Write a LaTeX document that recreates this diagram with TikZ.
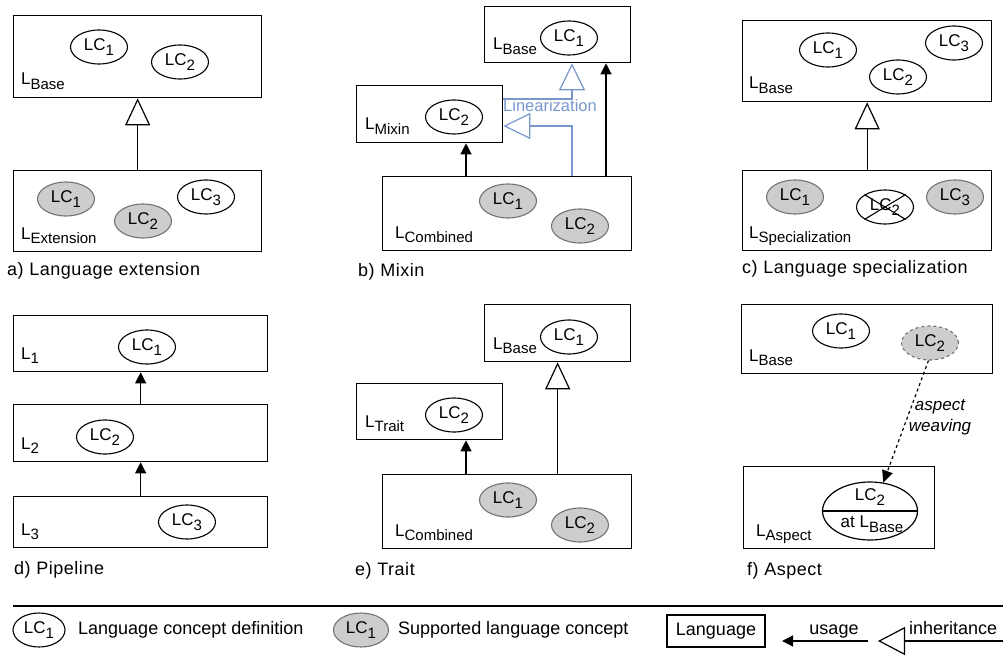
\documentclass[tikz,border=0pt]{standalone}
\usepackage{fontspec}
\setmainfont{Liberation Sans}
\newfontfamily\capfont[LetterSpace=3]{Liberation Sans}
\usetikzlibrary{arrows.meta,shapes.geometric,calc}

\definecolor{supfill}{RGB}{205,205,205}
\definecolor{supline}{RGB}{115,115,115}
\definecolor{linblue}{RGB}{120,152,205}

% lowered, slightly smaller subscript text
\newcommand\lsub[1]{\raisebox{-4.5pt}{\fontsize{15}{15}\selectfont #1}}
\newcommand\lcname[1]{LC\lsub{#1}}
\newcommand\langname[1]{L\lsub{#1}}

\begin{document}
\begin{tikzpicture}[x=1pt,y=-1pt,
  font=\fontsize{17}{20}\selectfont,
  lang/.style={draw, line width=1.3pt, inner sep=0pt, anchor=north west},
  lc/.style={draw, ellipse, line width=1.1pt, minimum width=57pt, minimum height=34pt, inner sep=0pt, fill=white},
  supp/.style={lc, fill=supfill, draw=supline},
  lbl/.style={anchor=base west, inner sep=0pt},
  captext/.style={anchor=west, inner sep=0pt, font=\capfont\fontsize{18}{21}\selectfont},
  leg/.style={inner sep=0pt, font=\fontsize{18}{21}\selectfont},
  use/.style={line width=1.2pt, -{Triangle[length=11pt,width=11pt]}},
  inh/.style={line width=1.2pt, -{Triangle[open,length=27pt,width=25pt,fill=white]}},
  lin/.style={draw=linblue, line width=1.2pt, -{Triangle[open,length=27pt,width=26pt,fill=white]}}
]
\useasboundingbox (0,0) rectangle (1003,655);

% ---------- a) Language extension ----------
\node[lang, minimum width=248pt, minimum height=82pt] (aBase) at (13,15) {};
\node[lc] (aB1) at (99,47) {\lcname{1}};
\node[lc] (aB2) at (180,62) {\lcname{2}};
\node[lbl] (aBaseL) at (21,85) {\langname{Base}};
\node[lang, minimum width=248pt, minimum height=81pt] (aExt) at (13,170) {};
\node[supp] (aE1) at (66,199) {\lcname{1}};
\node[supp] (aE2) at (143,221) {\lcname{2}};
\node[lc] (aE3) at (206,197) {\lcname{3}};
\node[lbl] (aExtL) at (21,239) {\langname{Extension}};
\draw[inh] (aExt.north) -- (aBase.south);
\node[captext] (aCap) at (7,271) {a) Language extension};

% ---------- b) Mixin ----------
\node[lang, minimum width=146pt, minimum height=56pt] (bBase) at (484,6) {};
\node[lc] (bB1) at (569,38) {\lcname{1}};
\node[lbl] (bBaseL) at (493,50) {\langname{Base}};
\node[lang, minimum width=146pt, minimum height=57pt] (bMix) at (356,85) {};
\node[lc] (bM2) at (454,117) {\lcname{2}};
\node[lbl] (bMixL) at (365,130) {\langname{Mixin}};
\node[lang, minimum width=249pt, minimum height=74pt] (bComb) at (382,176) {};
\node[supp] (bC1) at (508,201) {\lcname{1}};
\node[supp] (bC2) at (580,226) {\lcname{2}};
\node[lbl] (bCombL) at (395,238) {\langname{Combined}};
\coordinate (bU1) at ($(bComb.north west)+(84,0)$);
\coordinate (bU2) at ($(bComb.north west)+(224,0)$);
\draw[use] (bU1) -- (bU1 |- bMix.south);
\draw[use] (bU2) -- (bU2 |- bBase.south);
% linearization order
\coordinate (bT1) at ($(bBase.south west)+(88,0)$);
\coordinate (bL1) at ($(bMix.north east)+(0,14)$);
\coordinate (bL2) at ($(bComb.north west)+(190,0)$);
\coordinate (bL3) at ($(bMix.north east)+(0,41)$);
\draw[lin] (bL1) -| (bT1);
\draw[lin] (bL2) |- (bL3);
\node[text=linblue, inner sep=0pt, font=\fontsize{16.5}{19}\selectfont] (bLin) at (550,106) {Linearization};
\node[captext] (bCap) at (358,272) {b) Mixin};

% ---------- c) Language specialization ----------
\node[lang, minimum width=249pt, minimum height=81pt] (cBase) at (742,20) {};
\node[lc] (cB1) at (828,50) {\lcname{1}};
\node[lc] (cB2) at (898,77) {\lcname{2}};
\node[lc] (cB3) at (954,43) {\lcname{3}};
\node[lbl] (cBaseL) at (749,89) {\langname{Base}};
\node[lang, minimum width=249pt, minimum height=80pt] (cSpec) at (742,170) {};
\node[supp] (cS1) at (795,197) {\lcname{1}};
\node[lc] (cS2) at (885,207) {\lcname{2}};
\draw[line width=1.1pt] (cS2.north west) -- (cS2.south east)
                        (cS2.north east) -- (cS2.south west);
\node[supp] (cS3) at (955,197) {\lcname{3}};
\node[lbl] (cSpecL) at (749,238) {\langname{Specialization}};
\draw[inh] (cSpec.north) -- (cBase.south);
\node[captext] (cCap) at (742,269) {c) Language specialization};

% ---------- d) Pipeline ----------
\node[lang, minimum width=254pt, minimum height=56pt] (dL1) at (13,315) {};
\node[lc] (dC1) at (147,347) {\lcname{1}};
\node[lbl] (dL1L) at (21,359) {\langname{1}};
\node[lang, minimum width=254pt, minimum height=57pt] (dL2) at (13,404) {};
\node[lc] (dC2) at (105,437) {\lcname{2}};
\node[lbl] (dL2L) at (21,449) {\langname{2}};
\node[lang, minimum width=254pt, minimum height=51pt] (dL3) at (13,496) {};
\node[lc] (dC3) at (187,522) {\lcname{3}};
\node[lbl] (dL3L) at (21,535) {\langname{3}};
\draw[use] (dL2.north) -- (dL1.south);
\draw[use] (dL3.north) -- (dL2.south);
\node[captext] (dCap) at (14,570) {d) Pipeline};

% ---------- e) Trait ----------
\node[lang, minimum width=146pt, minimum height=57pt] (eBase) at (484,304) {};
\node[lc] (eB1) at (569,337) {\lcname{1}};
\node[lbl] (eBaseL) at (493,349) {\langname{Base}};
\node[lang, minimum width=146pt, minimum height=56pt] (eTrait) at (356,383) {};
\node[lc] (eT2) at (454,415) {\lcname{2}};
\node[lbl] (eTraitL) at (365,427) {\langname{Trait}};
\node[lang, minimum width=249pt, minimum height=74pt] (eComb) at (382,474) {};
\node[supp] (eC1) at (508,500) {\lcname{1}};
\node[supp] (eC2) at (580,525) {\lcname{2}};
\node[lbl] (eCombL) at (395,536) {\langname{Combined}};
\coordinate (eU1) at ($(eComb.north west)+(84,0)$);
\draw[use] (eU1) -- (eU1 |- eTrait.south);
\draw[inh] (eBase.south |- eComb.north) -- (eBase.south);
\node[captext] (eCap) at (355,571) {e) Trait};

% ---------- f) Aspect ----------
\node[lang, minimum width=251pt, minimum height=69pt] (fBase) at (741,304) {};
\node[lc] (fB1) at (841,331) {\lcname{1}};
\node[supp, dashed] (fB2) at (930,343) {\lcname{2}};
\node[lbl] (fBaseL) at (749,361) {\langname{Base}};
\node[lang, minimum width=191pt, minimum height=82pt] (fAsp) at (743,466) {};
\node[draw, ellipse, line width=1.2pt, minimum width=95pt, minimum height=58pt, inner sep=0pt] (fSp) at (870,511) {};
\draw[line width=1.1pt] (fSp.west) -- (fSp.east);
\node[inner sep=0pt] (fSpT) at (870,497) {\lcname{2}};
\node[inner sep=0pt] (fSpB) at (872,524) {at \langname{Base}};
\node[lbl] (fAspL) at (756,536) {\langname{Aspect}};
\draw[dashed, line width=1.2pt, -{Triangle[length=12pt,width=11pt]}] (fB2.265) -- (fSp.65);
\node[align=center, inner sep=0pt, font=\fontsize{17}{21}\selectfont\itshape] (fWeave) at (940,417) {aspect\\weaving};
\node[captext] (fCap) at (747,571) {f) Aspect};

% ---------- legend ----------
\coordinate (lgLa) at (13,606);
\coordinate (lgLb) at (1003,606);
\draw[line width=1.5pt] (lgLa) -- (lgLb);
\node[lc, minimum width=52pt] (lgDef) at (39,630) {\lcname{1}};
\node[leg, anchor=west] (lgDefT) at (78,630) {Language concept definition};
\node[supp, minimum width=55pt] (lgSup) at (361,630) {\lcname{1}};
\node[leg, anchor=west] (lgSupT) at (398,630) {Supported language concept};
\node[leg, draw, line width=1.2pt, minimum width=98pt, minimum height=32pt] (lgLang) at (716,631) {Language};
\coordinate (lgU1) at (868,641);
\coordinate (lgU2) at (782,641);
\draw[use] (lgU1) -- (lgU2);
\node[leg, anchor=base] (lgUT) at (834,634) {usage};
\coordinate (lgI1) at (1003,641);
\coordinate (lgI2) at (878,641);
\draw[line width=1.2pt, -{Triangle[open,length=27pt,width=28pt,fill=white]}] (lgI1) -- (lgI2);
\node[leg, anchor=base west] (lgIT) at (909,634) {inheritance};
\end{tikzpicture}
\end{document}
